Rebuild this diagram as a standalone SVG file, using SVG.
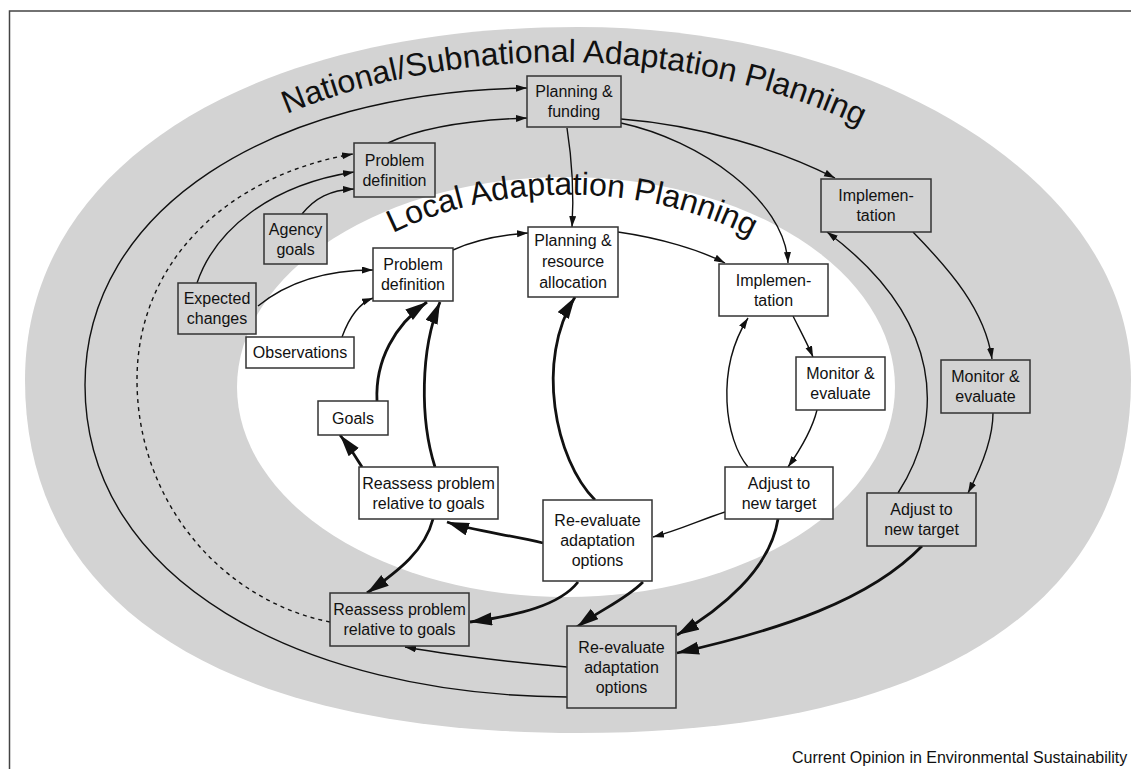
<svg xmlns="http://www.w3.org/2000/svg" width="1131" height="769" viewBox="0 0 1131 769">
<defs>
<style>
.g{fill:#d3d3d3;stroke:#333;stroke-width:1.5}
.w{fill:#fff;stroke:#333;stroke-width:1.5}
text{font-family:"Liberation Sans",Arial,sans-serif;fill:#111}
.n text{font-size:16px;text-anchor:middle}
.t{fill:none;stroke:#111;stroke-width:1.4}
.k{fill:none;stroke:#111;stroke-width:2.8}
.d{fill:none;stroke:#111;stroke-width:1.4;stroke-dasharray:4 4}
.title{font-size:32px}
</style>
<marker id="a" markerUnits="userSpaceOnUse" markerWidth="12" markerHeight="8" refX="11" refY="3.5" orient="auto"><path d="M0,0 L11,3.5 L0,7 z" fill="#111"/></marker>
<marker id="b" markerUnits="userSpaceOnUse" markerWidth="23" markerHeight="14" refX="22" refY="6.5" orient="auto"><path d="M0,0 L22,6.5 L0,13 z" fill="#111"/></marker>
<path id="natArc" d="M287,114 A500,320 0 0 1 920,160"/>
<path id="locArc" d="M393,233 A300,205 0 0 1 790,262"/>
</defs>
<rect width="1131" height="769" fill="#fff"/>
<path d="M9.5,769 V11 H1131" fill="none" stroke="#444" stroke-width="1.5"/>
<path d="M25,380 C25,168 246,27 578,27 C883,27 1131,185 1131,380 C1131,606 932,733 578,733 C224,733 25,606 25,380 Z" fill="#d3d3d3"/>
<ellipse cx="566" cy="387" rx="329" ry="210" fill="#fff"/>
<text class="title"><textPath href="#natArc">National/Subnational Adaptation Planning</textPath></text>
<text class="title"><textPath href="#locArc">Local Adaptation Planning</textPath></text>
<g id="connectors">
<path class="t" marker-end="url(#a)" d="M567,697 C300,695 85,580 85,385 C85,210 270,92 527,88"/>
<path class="t" marker-end="url(#a)" d="M388,143 C420,128 470,120 527,118"/>
<path class="d" marker-end="url(#a)" d="M330,622 C220,600 137,500 137,380 C137,260 230,175 353,154"/>
<path class="t" marker-end="url(#a)" d="M197,283 C215,230 270,185 354,172"/>
<path class="t" marker-end="url(#a)" d="M302,214 C315,198 330,190 354,189"/>
<path class="t" marker-end="url(#a)" d="M258,306 C290,280 330,270 373,270"/>
<path class="t" marker-end="url(#a)" d="M342,337 C350,315 360,303 373,298"/>
<path class="t" marker-end="url(#a)" d="M567,128 C572,160 574,195 572,227"/>
<path class="t" marker-end="url(#a)" d="M621,119 C700,125 780,150 835,178"/>
<path class="t" marker-end="url(#a)" d="M621,123 C700,140 785,200 788,263"/>
<path class="t" marker-end="url(#a)" d="M913,232 C950,270 985,310 992,359"/>
<path class="t" marker-end="url(#a)" d="M993,413 C993,440 980,470 968,493"/>
<path class="t" marker-end="url(#a)" d="M898,493 C945,420 945,320 827,232"/>
<path class="k" marker-end="url(#b)" d="M922,546 C870,600 780,630 677,653"/>
<path class="t" marker-end="url(#a)" d="M453,250 C475,240 500,235 528,233"/>
<path class="t" marker-end="url(#a)" d="M618,232 C660,238 700,250 725,263"/>
<path class="t" marker-end="url(#a)" d="M793,316 C800,330 808,345 813,357"/>
<path class="t" marker-end="url(#a)" d="M817,410 C812,430 800,450 788,467"/>
<path class="t" marker-end="url(#a)" d="M748,467 C725,440 715,370 748,318"/>
<path class="t" marker-end="url(#a)" d="M725,512 C700,520 680,530 653,537"/>
<path class="k" marker-end="url(#b)" d="M778,519 C770,570 720,610 677,635"/>
<path class="k" marker-end="url(#b)" d="M595,500 C555,460 535,360 575,297"/>
<path class="k" marker-end="url(#b)" d="M543,543 C510,535 470,530 447,522"/>
<path class="k" marker-end="url(#b)" d="M578,582 C560,605 520,615 470,622"/>
<path class="k" marker-end="url(#b)" d="M643,582 C625,600 600,610 577,627"/>
<path class="k" marker-end="url(#b)" d="M362,467 C355,455 348,445 340,435"/>
<path class="k" marker-end="url(#b)" d="M433,519 C425,550 400,570 367,593"/>
<path class="k" marker-end="url(#b)" d="M435,467 C420,420 420,350 440,302"/>
<path class="k" marker-end="url(#b)" d="M377,401 C375,360 395,325 427,302"/>
<path class="t" marker-end="url(#a)" d="M567,667 C510,662 450,655 405,647"/>
</g>
<g class="n">
<g id="n-plan-fund"><rect class="g" x="527" y="76" width="94" height="51"/><text x="574" y="97">Planning &amp;</text><text x="574" y="117">funding</text></g>
<g id="n-prob-def-outer"><rect class="g" x="354" y="143" width="81" height="54"/><text x="394.5" y="165.5">Problem</text><text x="394.5" y="185.5">definition</text></g>
<g id="n-agency"><rect class="g" x="264" y="214" width="63" height="50"/><text x="295.5" y="234.5">Agency</text><text x="295.5" y="254.5">goals</text></g>
<g id="n-expected"><rect class="g" x="178" y="283" width="78" height="51"/><text x="217" y="304">Expected</text><text x="217" y="324">changes</text></g>
<g id="n-impl-outer"><rect class="g" x="821" y="179" width="110" height="53"/><text x="876" y="201">Implemen-</text><text x="876" y="221">tation</text></g>
<g id="n-mon-outer"><rect class="g" x="941" y="360" width="89" height="53"/><text x="985.5" y="382">Monitor &amp;</text><text x="985.5" y="402">evaluate</text></g>
<g id="n-adj-outer"><rect class="g" x="867" y="493" width="109" height="53"/><text x="921.5" y="515">Adjust to</text><text x="921.5" y="535">new target</text></g>
<g id="n-reeval-outer"><rect class="g" x="567" y="626" width="109" height="82"/><text x="621.5" y="652.5">Re-evaluate</text><text x="621.5" y="672.5">adaptation</text><text x="621.5" y="692.5">options</text></g>
<g id="n-reassess-outer"><rect class="g" x="330" y="593" width="139" height="53"/><text x="399.5" y="615">Reassess problem</text><text x="399.5" y="635">relative to goals</text></g>
<g id="n-prob-def-inner"><rect class="w" x="373" y="248" width="80" height="53"/><text x="413" y="270">Problem</text><text x="413" y="290">definition</text></g>
<g id="n-plan-res"><rect class="w" x="528" y="227" width="90" height="70"/><text x="573" y="246">Planning &amp;</text><text x="573" y="267">resource</text><text x="573" y="288">allocation</text></g>
<g id="n-impl-inner"><rect class="w" x="719" y="264" width="109" height="52"/><text x="773.5" y="285.5">Implemen-</text><text x="773.5" y="305.5">tation</text></g>
<g id="n-mon-inner"><rect class="w" x="796" y="357" width="89" height="53"/><text x="840.5" y="379">Monitor &amp;</text><text x="840.5" y="399">evaluate</text></g>
<g id="n-adj-inner"><rect class="w" x="725" y="467" width="108" height="52"/><text x="779" y="488.5">Adjust to</text><text x="779" y="508.5">new target</text></g>
<g id="n-reeval-inner"><rect class="w" x="543" y="500" width="109" height="81"/><text x="597.5" y="526">Re-evaluate</text><text x="597.5" y="546">adaptation</text><text x="597.5" y="566">options</text></g>
<g id="n-reassess-inner"><rect class="w" x="359" y="467" width="139" height="52"/><text x="428.5" y="488.5">Reassess problem</text><text x="428.5" y="508.5">relative to goals</text></g>
<g id="n-goals"><rect class="w" x="318" y="401" width="70" height="34"/><text x="353" y="423.5">Goals</text></g>
<g id="n-obs"><rect class="w" x="246" y="337" width="108" height="31"/><text x="300" y="358">Observations</text></g>
</g>
<text x="792" y="763" style="font-size:16px">Current Opinion in Environmental Sustainability</text>
</svg>
